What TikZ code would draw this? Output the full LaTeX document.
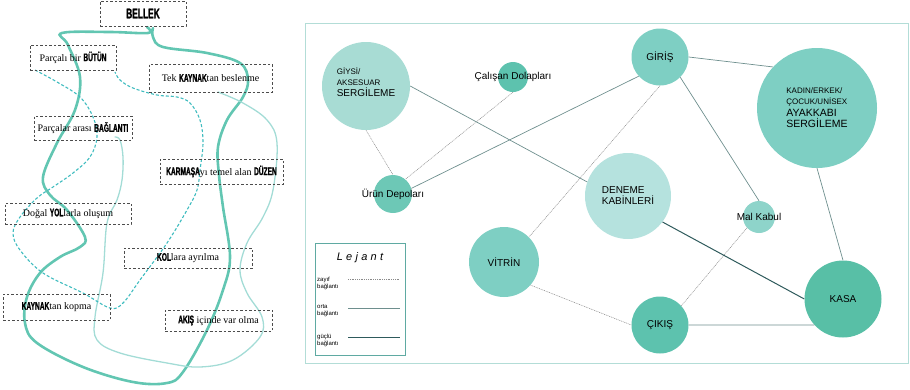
\documentclass[tikz,border=0pt]{standalone}
\usepackage{fontspec}
\setmainfont{Liberation Sans}
\newfontfamily\serifyazi{Liberation Serif}
\newfontfamily\kalin{Liberation Sans Bold}[FakeStretch=0.6,FakeBold=1.2]
\newfontfamily\lejantyazi{Liberation Sans Italic}[LetterSpace=30]
\usepackage{tikz}
\usetikzlibrary{calc}

\definecolor{kalinyol}{HTML}{62C6B2}
\definecolor{inceyol}{HTML}{A3DCD6}
\definecolor{kesikyol}{HTML}{3FBCBF}
\definecolor{acikdaire}{HTML}{A8DCD4}
\definecolor{denemedaire}{HTML}{B5E2DE}
\definecolor{ortadaire}{HTML}{7ECFC3}
\definecolor{koyudaire}{HTML}{5DC2AE}
\definecolor{kasadaire}{HTML}{58BFA6}
\definecolor{malkabuldaire}{HTML}{8ED4CA}
\definecolor{cerceve}{HTML}{B3DDD7}
\definecolor{lejantcerceve}{HTML}{5FAAA2}
\definecolor{ortacizgi}{HTML}{6E8F8E}
\definecolor{guclucizgi}{HTML}{2E5A5C}
\definecolor{zayifcizgi}{HTML}{8A8A8A}

\newcommand{\kal}[1]{{\kalin\fontsize{11}{12}\selectfont #1}}
\newcommand{\ky}{\fontsize{8}{9}\selectfont}
\newcommand{\by}{\fontsize{10}{11}\selectfont}

\tikzset{
  kutu/.style={draw=black!70, line width=0.7pt, dash pattern=on 2.5pt off 2pt,
    inner sep=0pt, font=\serifyazi\fontsize{10}{11}\selectfont},
  daire/.style={circle, inner sep=0pt, align=left, font=\by},
  zayif/.style={draw=zayifcizgi, line width=0.5pt, dash pattern=on 1pt off 0.8pt},
  orta/.style={draw=ortacizgi, line width=0.7pt},
  guclu/.style={draw=guclucizgi, line width=1pt},
}

\begin{document}
\begin{tikzpicture}[x=1pt,y=-1pt]
  \useasboundingbox (0,0) rectangle (910,389);

  % sol: akis egrileri
  \draw[kalinyol, line width=2.6pt, line cap=round] plot[smooth, tension=0.6] coordinates {
    (147,27) (148,33) (110,32) (62,33) (68,45) (80,77) (75,110) (57,143) (43,177)
    (50,195) (67,210) (85,237) (80,247) (60,257) (40,273) (27,297) (25,323) (37,343)
    (83,367) (133,382) (167,383) (183,372) (207,330) (223,290) (230,257) (223,207)
    (219,175) (218,147) (227,120) (243,97) (248,80) (240,63) (207,53) (163,47)
    (153,37) (153,28)};
  \draw[inceyol, line width=1.3pt, line cap=round] plot[smooth, tension=0.6] coordinates {
    (115,137) (120,140) (123,157) (122,180) (117,200) (107,223) (103,273) (95,317)
    (97,340) (120,353) (167,363) (200,367) (233,360) (260,337) (262,317) (247,293)
    (240,270) (247,243) (263,217) (273,190) (277,143) (267,120) (243,103) (218,92)};
  \draw[kesikyol, line width=1.1pt, dash pattern=on 3pt off 2pt] plot[smooth, tension=0.6] coordinates {
    (35,70) (57,82) (80,97) (93,117) (97,137) (90,157) (73,173) (53,187) (37,198)
    (20,217) (13,233) (20,250) (43,273) (83,293) (110,308) (123,303) (140,280)
    (167,243) (187,210) (197,190) (200,170) (203,143) (200,120) (190,103) (177,97)
    (157,95) (133,88) (120,80) (115,72)};

  % sol: kavram kutulari
  \node[kutu, minimum width=86pt, minimum height=25pt] (bellek) at (143,13.5)
    {\kalin\fontsize{14}{15}\selectfont BELLEK};
  \node[kutu, minimum width=86pt, minimum height=25pt] (butun) at (73,57.5)
    {Parçalı bir \kal{BÜTÜN}};
  \node[kutu, minimum width=123pt, minimum height=28pt] (kaynak) at (210.5,78)
    {Tek \kal{KAYNAK}tan beslenme};
  \node[kutu, minimum width=98pt, minimum height=24pt] (baglanti) at (83,128)
    {Parçalar arası \kal{BAĞLANTI}};
  \node[kutu, minimum width=123pt, minimum height=25pt] (duzen) at (221.5,171.5)
    {\kal{KARMAŞA}yı temel alan \kal{DÜZEN}};
  \node[kutu, minimum width=126pt, minimum height=21pt] (yol) at (68,213.5)
    {Doğal \kal{YOL}larla oluşum};
  \node[kutu, minimum width=128pt, minimum height=20pt] (kol) at (188,258)
    {\kal{KOL}lara ayrılma};
  \node[kutu, minimum width=107pt, minimum height=26pt] (kopma) at (56.5,307)
    {\kal{KAYNAK}tan kopma};
  \node[kutu, minimum width=107pt, minimum height=21pt] (akis) at (218.5,320.5)
    {\kal{AKIŞ} içinde var olma};

  % sag: plan semasi
  \draw[cerceve, line width=1pt] (305,23) rectangle (908,363);

  \node[daire, fill=acikdaire, minimum size=88pt] (giysi) at (366,86)
    {{\ky GİYSİ/}\\{\ky AKSESUAR}\\{\by SERGİLEME}\\[-3pt]};
  \node[daire, fill=koyudaire, minimum size=30pt] (calisan) at (513,77) {};
  \node[font=\by] (calisanyazi) at (calisan) {Çalışan Dolapları};
  \node[daire, fill=koyudaire!90!white, minimum size=38pt] (urun) at (393,194) {};
  \node[font=\by] (urunyazi) at (urun) {Ürün Depoları};
  \node[daire, fill=ortadaire, minimum size=57pt] (giris) at (660,57) {GİRİŞ};
  \node[daire, fill=ortadaire, minimum size=120pt] (ayakkabi) at (817,108)
    {{\ky KADIN/ERKEK/}\\{\ky ÇOCUK/UNİSEX}\\[1pt]{\fontsize{10.5}{11.5}\selectfont AYAKKABI}\\{\fontsize{10.5}{11.5}\selectfont SERGİLEME}};
  \node[daire, fill=denemedaire, minimum size=86pt] (deneme) at (628,196)
    {DENEME\\KABİNLERİ};
  \node[daire, fill=malkabuldaire, minimum size=32pt] (malkabul) at (759,217) {};
  \node[font=\by] (malkabulyazi) at (malkabul) {Mal Kabul};
  \node[daire, fill=ortadaire, minimum size=70pt] (vitrin) at (504,262) {VİTRİN};
  \node[daire, fill=koyudaire, minimum size=57pt] (cikis) at (660,325) {ÇIKIŞ};
  \node[daire, fill=kasadaire, minimum size=77pt] (kasa) at (843,299) {KASA};

  \draw[zayif] (giysi.south) -- (urun.north);
  \draw[zayif] (calisan.south) -- (urun.50);
  \draw[zayif] (giris.south) -- (vitrin.45);
  \draw[zayif] (malkabul.222) -- (cikis.42);
  \draw[zayif] (vitrin.-41) -- (cikis.west);
  \draw[orta] (giysi.east) -- (deneme.161);
  \draw[orta] (urun.17) -- (giris.222);
  \draw[orta] (giris.east) -- (ayakkabi.137);
  \draw[orta] (giris.-45) -- (malkabul.north);
  \draw[orta] (ayakkabi.south) -- (kasa.north);
  \draw[orta] (cikis.east) -- (kasa.222);
  \draw[guclu] (deneme.323) -- (kasa.west);

  % lejant
  \draw[lejantcerceve, line width=1pt] (315,243) rectangle (405,355);
  \node (lejant) at (360,258) {\lejantyazi\fontsize{11}{12}\selectfont Lejant};
  \node[align=left, font=\fontsize{6}{7}\selectfont, anchor=west, inner sep=0pt] (zayifyazi) at (317,283) {zayıf\\bağlantı};
  \node[align=left, font=\fontsize{6}{7}\selectfont, anchor=west, inner sep=0pt] (ortayazi) at (317,311) {orta\\bağlantı};
  \node[align=left, font=\fontsize{6}{7}\selectfont, anchor=west, inner sep=0pt] (gucluyazi) at (317,340) {güçlü\\bağlantı};
  \coordinate (z1) at (348,279);
  \coordinate (z2) at (400,279);
  \coordinate (o1) at (348,308);
  \coordinate (o2) at (400,308);
  \coordinate (g1) at (348,337);
  \coordinate (g2) at (400,337);
  \draw[zayif] (z1) -- (z2);
  \draw[orta] (o1) -- (o2);
  \draw[guclu] (g1) -- (g2);
\end{tikzpicture}
\end{document}
